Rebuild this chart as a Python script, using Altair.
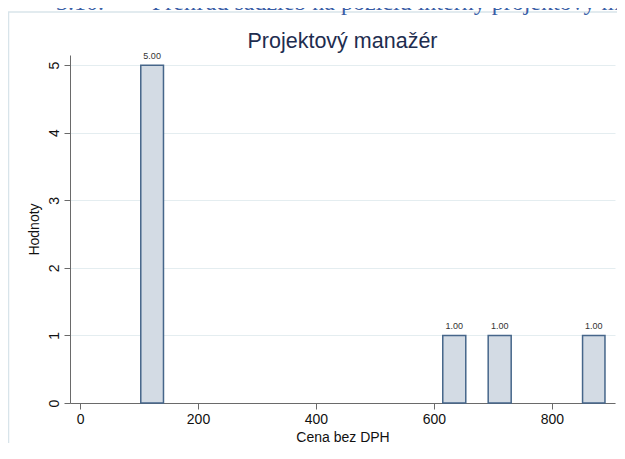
import altair as alt
import pandas as pd

# Data
bin_start = [103, 615, 692, 852]
bin_end = [141.5, 654, 731, 890]
counts = [5, 1, 1, 1]
labels = ["5.00", "1.00", "1.00", "1.00"]

x_ticks = [0, 200, 400, 600, 800]
y_ticks = [0, 1, 2, 3, 4, 5]

chart_title = "Projektový manažér"
x_title = "Cena bez DPH"
y_title = "Hodnoty"
NB = "\u00a0"
heading = "3.10." + NB * 8 + "Prehľad sadzieb na pozíciu interný projektový manažér"

df = pd.DataFrame({"start": bin_start, "end": bin_end, "count": counts, "label": labels})

FONT = "Liberation Sans"
AX = "#6a6a6a"
W, H = 545, 348

x_scale = alt.Scale(domain=[-17, 907], nice=False, zero=False)
y_scale = alt.Scale(domain=[0, 5.15], nice=False, zero=True)

base = alt.Chart(df)

bars = base.mark_bar(fill="#d3dbe4", stroke="#46668a", strokeWidth=1.5).encode(
    x=alt.X("start:Q", scale=x_scale,
            axis=alt.Axis(values=x_ticks, title=x_title, grid=False, tickSize=6,
                          labelFontSize=14, titleFontSize=14, titleFontWeight="normal",
                          labelPadding=3, titlePadding=4, domainColor=AX, tickColor=AX,
                          labelColor="#111", titleColor="#111", labelFont=FONT, titleFont=FONT,
                          format="d")),
    x2="end:Q",
    y=alt.Y("count:Q", scale=y_scale,
            axis=alt.Axis(values=y_ticks, title=y_title, grid=True, gridColor="#e4edf0",
                          tickSize=6, labelAngle=270, labelAlign="center", labelBaseline="bottom",
                          labelFontSize=14, titleFontSize=14, titleFontWeight="normal",
                          labelPadding=3, titlePadding=6, domainColor=AX, tickColor=AX,
                          labelColor="#111", titleColor="#111", labelFont=FONT, titleFont=FONT,
                          format="d")),
    y2=alt.Y2(datum=0),
)

text = base.mark_text(fontSize=9, font=FONT, color="#333", baseline="bottom", dy=-4).encode(
    x=alt.X("mid:Q", scale=x_scale),
    y=alt.Y("count:Q", scale=y_scale),
    text="label:N",
).transform_calculate(mid="(datum.start + datum.end) / 2")

frame_df = pd.DataFrame({"k": [0]})
frame_left = alt.Chart(frame_df).mark_rule(color="#d8e4ea", strokeWidth=1.5).encode(
    x=alt.value(-61.5), y=alt.value(-43), y2=alt.value(400))
frame_top = alt.Chart(frame_df).mark_rule(color="#d8e4ea", strokeWidth=1.5).encode(
    x=alt.value(-62), x2=alt.value(560), y=alt.value(-43))

head = alt.Chart(pd.DataFrame({"t": [heading]})).mark_text(
    font="Liberation Serif", fontSize=24, color="#3a5ea6", align="left", baseline="alphabetic"
).encode(x=alt.value(-14), y=alt.value(-45), text="t:N")

title = alt.Chart(pd.DataFrame({"t": [chart_title]})).mark_text(
    font=FONT, fontSize=21.5, color="#1e2d4f", align="center", baseline="alphabetic"
).encode(x=alt.value(W / 2), y=alt.value(-7), text="t:N")

chart = alt.layer(frame_left, frame_top, head, title, bars, text).properties(
    width=W, height=H,
    autosize=alt.AutoSizeParams(type="none"),
    padding={"left": 62, "top": 47, "right": 2, "bottom": 40},
).configure_view(stroke=None)

chart.save("out.html", embed_options={"renderer": "svg", "actions": False})
